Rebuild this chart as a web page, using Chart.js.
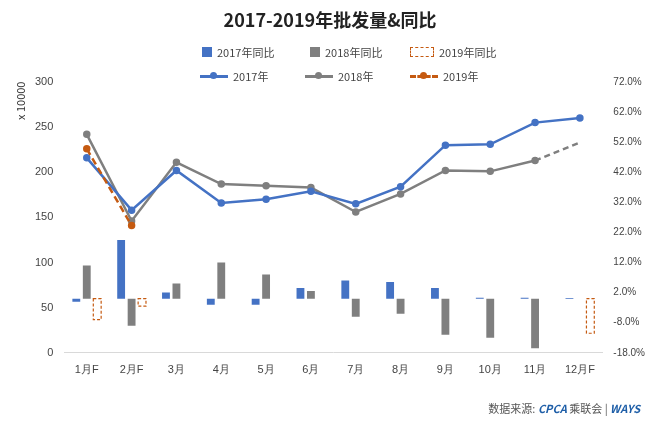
<!DOCTYPE html>
<html><head><meta charset="utf-8">
<script src="https://cdn.jsdelivr.net/npm/chart.js@4/dist/chart.umd.min.js"></script>
<style>
body{margin:0;background:#fff;font-family:"Noto Sans CJK SC",sans-serif}
#wrap{position:relative;width:660px;height:422px}
#title{position:absolute;top:6px;left:0;width:660px;text-align:center;font-size:18px;font-weight:bold;color:#222}
.lg{position:absolute;font-size:11px;color:#444;display:flex;align-items:center}
.sw{display:inline-block;width:10px;height:10px;margin-right:5px}
.ln{display:inline-block;width:28px;height:10px;margin-right:5px;position:relative}
.ln i{position:absolute;left:0;right:0;top:4px;height:0;border-top:3px solid}
.ln b{position:absolute;left:10px;top:1px;width:7px;height:7px;border-radius:50%}
#ylab{position:absolute;left:12px;top:120px;transform:rotate(-90deg);transform-origin:left top;font-size:11px;color:#333}
#src{position:absolute;right:20px;bottom:6px;font-size:11px;color:#555}
</style></head><body>
<div id="wrap">
<canvas id="c" width="660" height="422"></canvas>
<div id="title">2017-2019年批发量&amp;同比</div>
<div class="lg" style="left:202px;top:44px"><span class="sw" style="background:#4472C4"></span>2017年同比</div>
<div class="lg" style="left:310px;top:44px"><span class="sw" style="background:#7F7F7F"></span>2018年同比</div>
<div class="lg" style="left:410px;top:44px"><span class="sw" style="border:1px dashed #C55A11;width:22px;height:8px"></span>2019年同比</div>
<div class="lg" style="left:200px;top:68px"><span class="ln"><i style="border-color:#4472C4"></i><b style="background:#4472C4"></b></span>2017年</div>
<div class="lg" style="left:305px;top:68px"><span class="ln"><i style="border-color:#7F7F7F"></i><b style="background:#7F7F7F"></b></span>2018年</div>
<div class="lg" style="left:410px;top:68px"><span class="ln"><i style="border-color:#C55A11;border-top-style:dashed"></i><b style="background:#C55A11"></b></span>2019年</div>
<div id="ylab">x 10000</div>
<div id="src">数据来源: <b style="color:#1f5fa8;font-style:italic">CPCA</b> 乘联会 | <b style="color:#1f5fa8;font-style:italic">WAYS</b></div>
</div>
<script>
const categories=["1月F","2月F","3月","4月","5月","6月","7月","8月","9月","10月","11月","12月F"];
const sales2017=[216,158,202,166,170,179,165,184,230,231,255,260];
const sales2018=[242,146,211,187,185,183,156,176,202,201,213,233];
const sales2019=[226,141,null,null,null,null,null,null,null,null,null,null];
const yoy2017=[-1,19.5,2,-2,-2,3.5,6,5.5,3.5,0.3,0.3,0.2];
const yoy2018=[11,-9,5,12,8,2.5,-6,-5,-12,-13,-16.5,null];
const yoy2019=[-7,-2.5,null,null,null,null,null,null,null,null,null,-11.5];
const dashBars={id:'dashBars',afterDatasetsDraw(ch){
  const meta=ch.getDatasetMeta(2);const c=ch.ctx;c.save();c.strokeStyle='#C55A11';c.lineWidth=1.2;c.setLineDash([3,2]);
  meta.data.forEach((el,i)=>{if(yoy2019[i]==null)return;const w=el.width;c.strokeRect(el.x-w/2,Math.min(el.y,el.base),w,Math.abs(el.base-el.y));});
  c.restore();}};
new Chart(document.getElementById('c'),{
 data:{labels:categories,datasets:[
  {type:'bar',label:'2017年同比',data:yoy2017,backgroundColor:'#4472C4',yAxisID:'y1',order:3,barPercentage:0.75,categoryPercentage:0.7},
  {type:'bar',label:'2018年同比',data:yoy2018,backgroundColor:'#7F7F7F',yAxisID:'y1',order:3,barPercentage:0.75,categoryPercentage:0.7},
  {type:'bar',label:'2019年同比',data:yoy2019,backgroundColor:'rgba(0,0,0,0)',yAxisID:'y1',order:3,barPercentage:0.75,categoryPercentage:0.7},
  {type:'line',label:'2017年',data:sales2017,borderColor:'#4472C4',backgroundColor:'#4472C4',borderWidth:2.5,pointRadius:2.5,yAxisID:'y',order:1},
  {type:'line',label:'2018年',data:sales2018,borderColor:'#7F7F7F',backgroundColor:'#7F7F7F',borderWidth:2.5,pointRadius:[2.5,2.5,2.5,2.5,2.5,2.5,2.5,2.5,2.5,2.5,2.5,0],yAxisID:'y',order:1,
   segment:{borderDash:ctx=>ctx.p1DataIndex===11?[6,4]:undefined}},
  {type:'line',label:'2019年',data:sales2019,borderColor:'#C55A11',backgroundColor:'#C55A11',borderWidth:2.5,borderDash:[7,4],pointRadius:2.5,yAxisID:'y',order:0}
 ]},
 options:{responsive:false,animation:false,
  layout:{padding:{top:82,left:32,right:12,bottom:42}},
  plugins:{legend:{display:false},tooltip:{enabled:false}},
  scales:{
   x:{grid:{display:false},border:{color:'#d9d9d9'},ticks:{color:'#444',font:{size:11}}},
   y:{position:'left',min:0,max:300,ticks:{stepSize:50,color:'#444',font:{size:11}},grid:{display:false},border:{display:false}},
   y1:{position:'right',min:-18,max:72,ticks:{stepSize:10,color:'#444',font:{size:10},callback:v=>v.toFixed(1)+'%'},grid:{display:false},border:{display:false}}
  }},
 plugins:[dashBars]});
</script></body></html>
